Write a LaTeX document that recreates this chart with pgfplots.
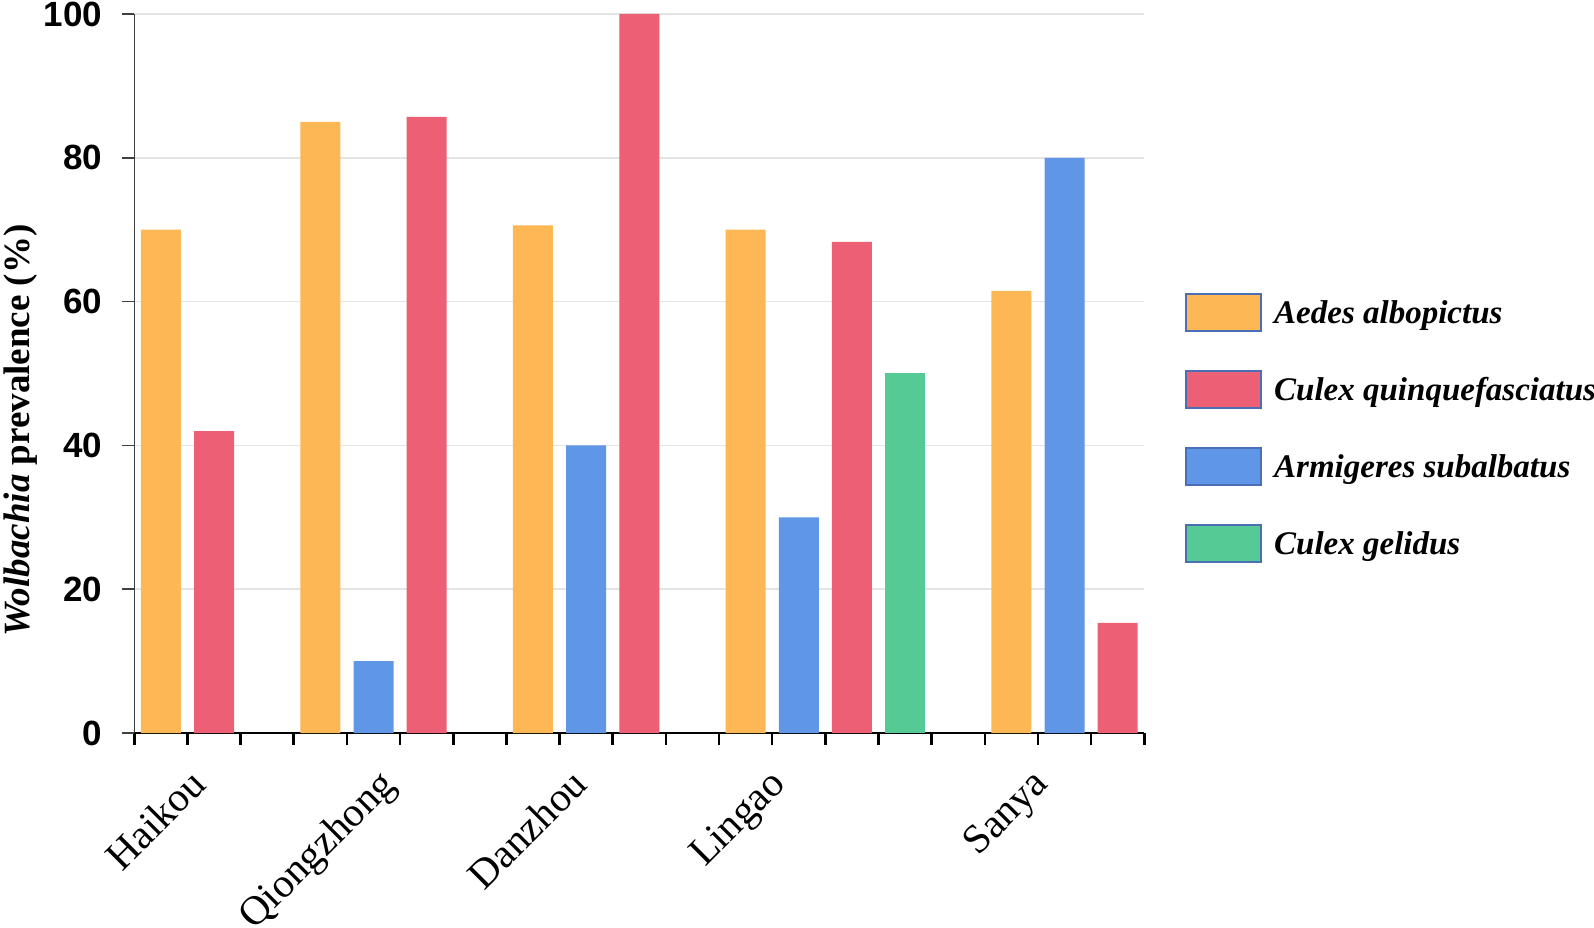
\documentclass[border=0pt]{standalone}
\usepackage{pgfplots}
\pgfplotsset{compat=1.18}
\usepackage{fontspec}
\setmainfont{Liberation Serif}
\newfontfamily\arialfont{Liberation Sans}
\definecolor{cOrange}{HTML}{FDB755}
\definecolor{cRed}{HTML}{EC5F75}
\definecolor{cBlue}{HTML}{5F96E5}
\definecolor{cGreen}{HTML}{55CA95}
\definecolor{legborder}{HTML}{4A6FB5}
\definecolor{gridgray}{HTML}{E4E4E4}
\pgfplotsset{boxlegend/.style={legend image code/.code={\draw[##1,draw=legborder,line width=2pt] (0pt,-18.5pt) rectangle (75pt,18.5pt); \path (88pt,0pt);}}}
\begin{document}
\begin{tikzpicture}
\begin{axis}[
  at={(0pt,0pt)}, anchor=south west,
  width=1010pt, height=719pt, scale only axis,
  xmin=0, xmax=19, ymin=0, ymax=100,
  clip=false,
  axis x line*=bottom, axis y line*=left,
  x axis line style={black, line width=2.6pt, -},
  y axis line style={black!75, line width=1.5pt, -},
  xtick={0,...,19}, xticklabels={},
  ytick={0,20,40,60,80,100},
  tick align=outside,
  major tick length=12pt,
  x tick style={black, line width=2.6pt},
  y tick style={black!75, line width=1.5pt},
  ymajorgrids, grid style={gridgray, line width=1.5pt},
  /pgf/number format/assume math mode=true,
  yticklabel style={font=\arialfont\bfseries\fontsize{35}{35}\selectfont, inner sep=0pt, xshift=-20pt},
  ylabel={\textit{Wolbachia} prevalence (\%)},
  ylabel style={font=\bfseries\fontsize{37}{37}\selectfont, at={(axis description cs:-0.113,0.421)}, anchor=center},
  legend style={at={(axis description cs:1.0403,0.612)}, anchor=north west, draw=none, fill=none, inner sep=0pt,
    row sep=38pt, font=\bfseries\itshape\fontsize{33}{33}\selectfont, nodes={inner sep=0pt}},
  legend cell align=left,
]
\addplot[ybar, bar width=40pt, bar shift=0pt, fill=cOrange, draw=none, boxlegend]
  coordinates {(0.5,70) (3.5,85) (7.5,70.6) (11.5,70) (16.5,61.5)};
\addlegendentry{Aedes albopictus}
\addplot[ybar, bar width=40pt, bar shift=0pt, fill=cRed, draw=none, boxlegend]
  coordinates {(1.5,42) (5.5,85.7) (9.5,100) (13.5,68.3) (18.5,15.3)};
\addlegendentry{Culex quinquefasciatus}
\addplot[ybar, bar width=40pt, bar shift=0pt, fill=cBlue, draw=none, boxlegend]
  coordinates {(4.5,10) (8.5,40) (12.5,30) (17.5,80)};
\addlegendentry{Armigeres subalbatus}
\addplot[ybar, bar width=40pt, bar shift=0pt, fill=cGreen, draw=none, boxlegend]
  coordinates {(14.5,50)};
\addlegendentry{Culex gelidus}
\tikzset{catlab/.style={rotate=45, anchor=north east, inner sep=0pt, font=\fontsize{41}{41}\selectfont}}
\node[yshift=-33.3pt, catlab] at (axis cs:1.0,0) {Haikou};
\node[yshift=-33.3pt, catlab] at (axis cs:4.57,0) {Qiongzhong};
\node[yshift=-33.3pt, catlab] at (axis cs:8.18,0) {Danzhou};
\node[yshift=-33.3pt, catlab] at (axis cs:11.92,0) {Lingao};
\node[yshift=-33.3pt, catlab] at (axis cs:16.86,0) {Sanya};
\end{axis}
\pgfresetboundingbox
\useasboundingbox (-134.3pt,-195pt) rectangle (1459.7pt,733pt);
\end{tikzpicture}
\end{document}
